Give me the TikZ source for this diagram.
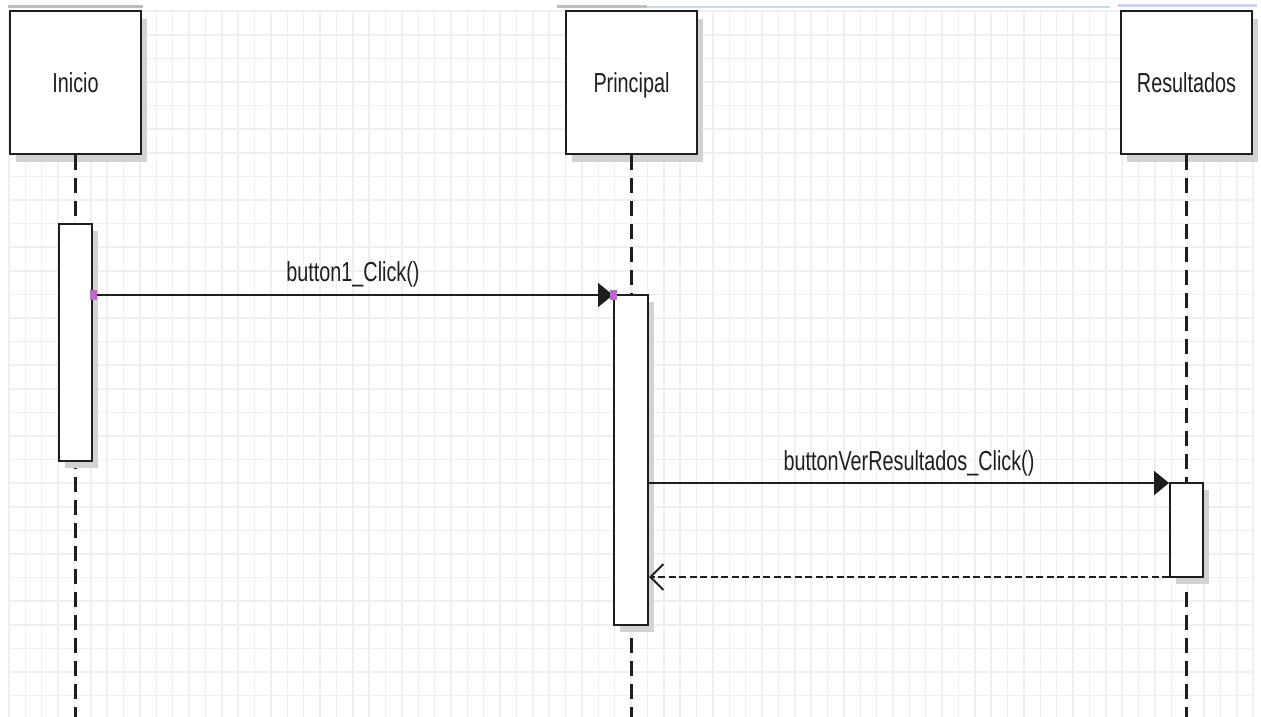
\documentclass[tikz,border=0pt]{standalone}
\usepackage{fontspec}
\setmainfont{Liberation Sans}[FakeStretch=0.72]
\usetikzlibrary{arrows.meta,shadows}

\definecolor{ink}{HTML}{1E1E1E}
\definecolor{gridline}{HTML}{EFEFEF}
\definecolor{shade}{HTML}{D2D2D2}
\definecolor{pinmark}{HTML}{B86CC8}
\definecolor{topgray}{HTML}{BDBDBD}
\definecolor{topblue}{HTML}{C6D8EA}

\begin{document}
\begin{tikzpicture}[x=1pt,y=-1pt,
  lifebox/.style={draw=ink, line width=2pt, fill=white,
    minimum width=131pt, minimum height=143pt, inner sep=0pt,
    font=\fontsize{27.5}{30}\selectfont, text=ink,
    text height=20pt, text depth=0pt,
    drop shadow={shadow xshift=6pt, shadow yshift=-8pt, fill=shade, opacity=1}},
  actbar/.style={draw=ink, line width=2pt, fill=white,
    minimum width=33pt, inner sep=0pt,
    drop shadow={shadow xshift=6pt, shadow yshift=-7pt, fill=shade, opacity=1}},
  lifeline/.style={draw=ink, line width=2.2pt, dash pattern=on 15pt off 8pt},
  msg/.style={draw=ink, line width=2pt, -{Triangle[length=15pt,width=24pt]}},
  reply/.style={draw=ink, line width=2.4pt, dash pattern=on 7pt off 3.5pt,
    -{Straight Barb[length=13pt,width=26pt,line width=2pt]}},
  msglabel/.style={font=\fontsize{27.5}{30}\selectfont, text=ink, inner sep=0pt,
    text height=20pt, text depth=0pt},
  pin/.style={fill=pinmark, minimum width=7pt, minimum height=10pt, inner sep=0pt}
]
% page frame
\useasboundingbox (0,0) rectangle (1261,717);
\fill[white] (0,0) rectangle (1261,717);

% background grid
\foreach \i in {0,...,76}
  \draw[gridline, line width=1.5pt] (9+16.37*\i, 11) -- (9+16.37*\i, 717);
\foreach \j in {0,...,29}
  \draw[gridline, line width=1.5pt] (9, 11.2+23.6*\j) -- (1253, 11.2+23.6*\j);

% faint window edge along the top
\draw[topgray, line width=3pt] (8,7) -- (143,7);
\draw[topgray, line width=3pt] (557,7) -- (647,7);
\draw[topblue, line width=2pt] (647,7) -- (1110,7);
\draw[topblue, line width=3pt] (1118,6) -- (1257,6);

% participants
\node[lifebox] (inicio) at (75.5,82.5) {Inicio};
\node[lifebox] (principal) at (631.5,82.5) {Principal};
\node[lifebox] (resultados) at (1186.5,82.5) {Resultados};

% lifelines
\coordinate (bottom) at (0,717);
\draw[lifeline] (inicio.south) -- (inicio.south |- bottom);
\draw[lifeline] (principal.south) -- (principal.south |- bottom);
\draw[lifeline] (resultados.south) -- (resultados.south |- bottom);

% activation bars
\node[actbar, minimum height=237pt] (actI) at (75.5,342.5) {};
\node[actbar, minimum width=34pt, minimum height=330pt] (actP) at (631,460) {};
\node[actbar, minimum height=94pt] (actR) at (1186.5,530) {};

% message rows
\coordinate (m1) at (0,295);
\coordinate (m2) at (0,483);
\coordinate (r2) at (0,577);

\draw[msg] (actI.east |- m1) -- (actP.west |- m1)
  node[msglabel, midway, yshift=24pt] (lab1) {button1\_Click()};
\node[pin] (pin1) at (actI.east |- m1) {};
\node[pin] (pin2) at (actP.west |- m1) {};

\draw[msg] (actP.east |- m2) -- (actR.west |- m2)
  node[msglabel, midway, yshift=23pt] (lab2) {buttonVerResultados\_Click()};

\draw[reply] (actR.west |- r2) -- (actP.east |- r2);
\end{tikzpicture}
\end{document}
